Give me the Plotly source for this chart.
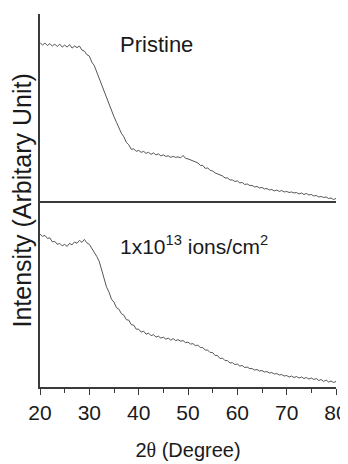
import plotly.graph_objects as go
from plotly.subplots import make_subplots

# 2-theta values (degrees), 0.5 degree steps
two_theta = [20 + 0.5 * i for i in range(121)]

pristine = [
    157.5, 155, 157, 154.5, 156.5, 154, 156, 153.5, 156, 153,
    155, 153, 155.5, 152, 154, 152.5, 154, 150, 149, 145.5,
    144, 138, 134.5, 128, 122.5, 116, 109, 103, 96.5, 90,
    83.5, 78, 72.5, 67, 63.5, 58, 55.5, 51, 51.5, 49,
    50, 48, 49, 47, 48, 46, 47.5, 45.5, 46.5, 44.5,
    45.5, 44, 44.5, 43, 44, 43, 43.5, 42.5, 45, 42,
    41.5, 40.5, 39.5, 38.5, 37.5, 35, 35, 32, 32.5, 30,
    29.5, 27.5, 26.5, 25, 24.5, 22.5, 22.5, 20.5, 20.5, 19,
    19.5, 17.5, 18, 16, 16.5, 15, 15, 13.5, 14, 12.5,
    13, 11.5, 12, 10.5, 11, 9.5, 10.5, 9, 10, 8.5,
    9, 8, 8.5, 7.5, 8, 6.5, 7.5, 6, 7, 5.5,
    6, 4.5, 5, 3.5, 4, 3, 3.5, 2, 2.5, 1,
    2,
]

irradiated = [
    153.5, 151, 152, 149, 149.5, 145.5, 146, 143, 144, 141.5,
    143, 141, 144, 142.5, 145.5, 144, 147, 145, 148, 144.5,
    143, 139, 136, 131, 126, 117, 109, 100, 95, 88,
    85, 79.5, 78, 73.5, 72, 67.5, 67, 62.5, 62, 58,
    58, 55, 56, 53, 54, 51.5, 52.5, 50, 51, 49,
    50, 48, 49, 47, 48.5, 46.5, 47.5, 46, 46.5, 44.5,
    45, 43, 43.5, 41.5, 42, 39.5, 39.5, 37, 37, 34.5,
    34.5, 31.5, 31.5, 28.5, 29, 26.5, 26.5, 24, 24.5, 22.5,
    23, 21, 21.5, 19.5, 20, 18.5, 18.5, 17, 17.5, 16,
    16.5, 15, 15.5, 14, 14.5, 13, 13.5, 12, 12.5, 11,
    11.5, 10, 11, 9.5, 10.5, 9, 10, 8.5, 9.5, 8,
    9, 7.5, 8.5, 6.5, 7.5, 5.5, 7, 5, 6, 4.5,
    5.5,
]

x_ticks = [20, 30, 40, 50, 60, 70, 80]
labels = ["Pristine", "1x10<sup>13</sup> ions/cm<sup>2</sup>"]
x_title = '2<span style="font-family:Liberation Serif">θ</span> (Degree)'
y_title = "Intensity (Arbitary Unit)"

SANS = "Liberation Sans, Arial, sans-serif"
LINE = "#555555"
AXIS = "#3a3a3a"
TXT = "#1a1a1a"

fig = make_subplots(rows=2, cols=1, shared_xaxes=True, vertical_spacing=0)

fig.add_trace(go.Scatter(x=two_theta, y=pristine, mode="lines",
                         line=dict(color=LINE, width=1), showlegend=False), row=1, col=1)
fig.add_trace(go.Scatter(x=two_theta, y=irradiated, mode="lines",
                         line=dict(color=LINE, width=1), showlegend=False), row=2, col=1)

# page body has an 8px default margin, so the figure is 8px smaller
fig.update_layout(
    width=340, height=456,
    margin=dict(l=32, r=12, t=6, b=77, autoexpand=False),
    paper_bgcolor="white", plot_bgcolor="white",
    font=dict(family=SANS, color=TXT, size=21),
)

fig.update_xaxes(row=1, col=1, range=[20, 80], showline=True, linecolor=AXIS, linewidth=1.5,
                 showgrid=False, zeroline=False, ticks="", showticklabels=False)
fig.update_xaxes(row=2, col=1, range=[20, 80], showline=True, linecolor=AXIS, linewidth=1.5,
                 showgrid=False, zeroline=False, ticks="outside", ticklen=6, tickwidth=1.2,
                 tickcolor=AXIS, tickvals=x_ticks, ticktext=[str(v) for v in x_ticks],
                 tickfont=dict(size=21, family=SANS, color=TXT), ticklabeloverflow="allow",
                 minor=dict(ticks="outside", ticklen=4, tickwidth=1.2, tickcolor=AXIS, dtick=5, showgrid=False),
                 title=dict(text=x_title, font=dict(size=20, family=SANS, color=TXT), standoff=20))

fig.update_yaxes(row=1, col=1, range=[0, 186], showline=True, linecolor=AXIS, linewidth=1.5,
                 showgrid=False, zeroline=False, ticks="", showticklabels=False)
fig.update_yaxes(row=2, col=1, range=[0, 187], showline=True, linecolor=AXIS, linewidth=1.5,
                 showgrid=False, zeroline=False, ticks="", showticklabels=False)

fig.add_annotation(text=labels[0], x=43.6, y=156, xref="x", yref="y", showarrow=False,
                   font=dict(size=22, family=SANS, color=TXT), xanchor="center", yanchor="middle")
fig.add_annotation(text=labels[1], x=51.2, y=142, xref="x2", yref="y2", showarrow=False,
                   font=dict(size=21, family=SANS, color=TXT), xanchor="center", yanchor="middle")

fig.add_annotation(text=y_title, x=0, y=0.5, xref="paper", yref="paper", xshift=-19,
                   showarrow=False, textangle=-90, xanchor="center", yanchor="middle",
                   font=dict(size=25, family=SANS, color=TXT))

fig.write_html("out.html")
